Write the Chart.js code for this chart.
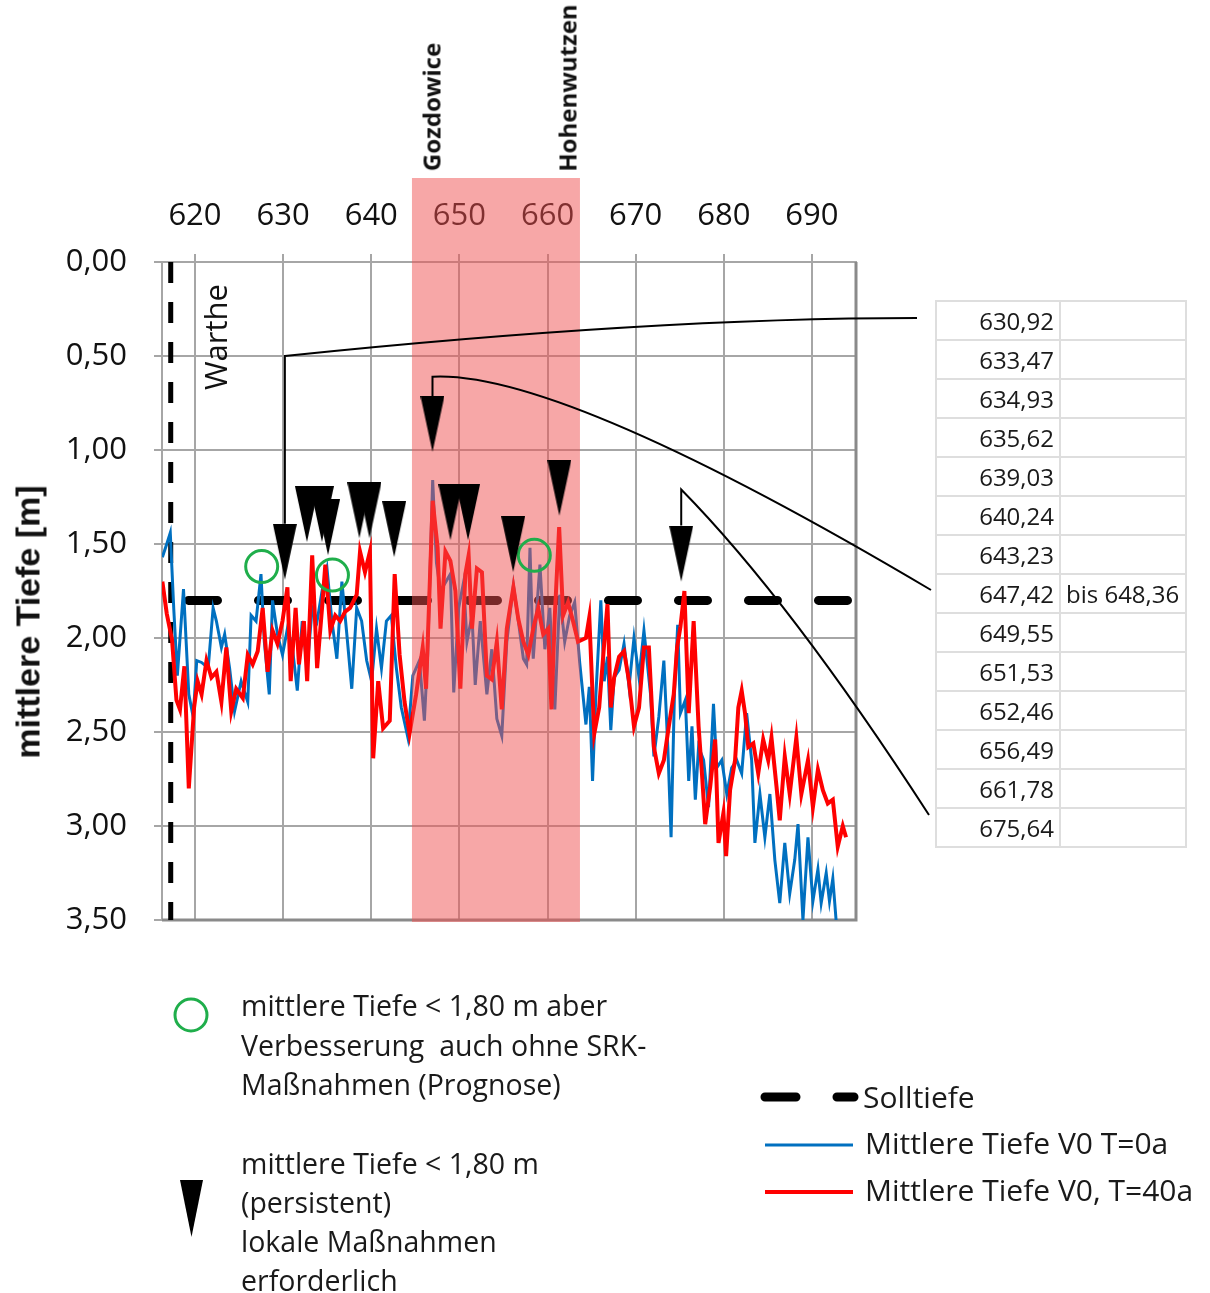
<!DOCTYPE html>
<html>
<head>
<meta charset="utf-8">
<script src="https://cdn.jsdelivr.net/npm/chart.js@4"></script>
<style>
  html, body { margin: 0; padding: 0; background: #fff; }
  #wrap { position: relative; width: 1210px; height: 1293px; overflow: hidden; }
  #chart { position: absolute; left: 0; top: 0; }
  .txt { position: absolute; color: #1a1a1a; font-family: 'Open Sans', sans-serif; white-space: pre; line-height: 40px; }
  .rot { position: absolute; transform: translate(-50%, -50%) rotate(-90deg); white-space: nowrap; line-height: 1; color: #111; }
  #tbl { position: absolute; left: 935px; top: 300px; border-collapse: collapse; font-family: 'Open Sans', sans-serif; font-size: 24px; color: #1a1a1a; }
  #tbl td { border: 2px solid #dedede; height: 37px; padding: 0 5px; line-height: 37px; }
  #tbl td.a { width: 112px; text-align: right; }
  #tbl td.b { width: 114px; text-align: left; }
</style>
</head>
<body>
<div id="wrap">
  <canvas id="chart" width="1210" height="1293"></canvas>

  <div class="rot" style="left:28px; top:622px; font:bold 34px 'Liberation Sans', Arial, sans-serif;">mittlere Tiefe [m]</div>
  <div class="rot" style="left:215px; top:337px; font:31px 'Open Sans', sans-serif;">Warthe</div>
  <div class="rot place" id="place0" style="font:bold 24px 'Open Sans', sans-serif;">Gozdowice</div>
  <div class="rot place" id="place1" style="font:bold 24px 'Open Sans', sans-serif;">Hohenwutzen</div>

  <table id="tbl"></table>

  <div class="txt" style="left:241px; top:985px; font-size:28.5px;">mittlere Tiefe &lt; 1,80 m aber</div>
  <div class="txt" style="left:241px; top:1025px; font-size:28.5px;">Verbesserung  auch ohne SRK-</div>
  <div class="txt" style="left:241px; top:1064px; font-size:28.5px;">Maßnahmen (Prognose)</div>
  <div class="txt" style="left:241px; top:1143px; font-size:28.5px;">mittlere Tiefe &lt; 1,80 m</div>
  <div class="txt" style="left:241px; top:1182px; font-size:28.5px;">(persistent)</div>
  <div class="txt" style="left:241px; top:1221px; font-size:28.5px;">lokale Maßnahmen</div>
  <div class="txt" style="left:241px; top:1260px; font-size:28.5px;">erforderlich</div>

  <div class="txt" style="left:863px; top:1077px; font-size:30px;">Solltiefe</div>
  <div class="txt" style="left:865px; top:1123px; font-size:30px;">Mittlere Tiefe V0 T=0a</div>
  <div class="txt" style="left:865px; top:1170px; font-size:30px;">Mittlere Tiefe V0, T=40a</div>
</div>

<script>
// axes
const xTicks = [620, 630, 640, 650, 660, 670, 680, 690];
const yTicks = [0, 0.5, 1, 1.5, 2, 2.5, 3, 3.5];
const sollTiefe = 1.8;
const wartheKm = 617.25;
const bandKm = [644.62, 663.68];
const places = ['Gozdowice', 'Hohenwutzen'];
const placeKm = [646.8, 662.2];

// Mittlere Tiefe V0 T=0a (blue)
const blueKm = [616.3, 616.8, 617.2, 617.6, 618.0, 618.7, 619.3, 619.8, 620.2, 620.75,
  621.5, 622.06, 622.43, 623.0, 623.37, 623.93, 624.49, 625.24, 625.99, 626.37,
  626.93, 627.49, 627.87, 628.43, 628.8, 629.36, 629.93, 630.49, 631.05, 631.61,
  632.17, 632.73, 633.3, 633.86, 634.42, 634.98, 635.54, 636.1, 636.67, 637.23,
  637.79, 638.35, 638.91, 639.48, 640.04, 640.6, 641.16, 641.72, 642.28, 642.85,
  643.41, 644.16, 644.72, 645.47, 646.03, 646.4, 646.97, 647.4, 647.86, 648.98,
  649.36, 649.92, 650.49, 650.86, 651.43, 651.8, 652.37, 653.12, 653.68, 654.25,
  654.81, 655.38, 656.13, 656.69, 657.26, 657.63, 658.01, 658.38, 659.14, 659.7,
  660.26, 660.83, 661.39, 661.95, 662.52, 663.08, 663.65, 664.36, 664.74, 665.11,
  665.49, 666.05, 666.43, 666.8, 667.18, 667.56, 668.12, 668.68, 669.25, 669.81,
  670.38, 670.94, 671.69, 672.07, 672.63, 673.2, 673.65, 674.02, 674.4, 674.77,
  675.08, 675.64, 676.02, 676.39, 676.77, 677.14, 677.71, 678.27, 678.83, 679.21,
  679.77, 680.34, 680.9, 681.47, 682.03, 682.59, 683.16, 683.53, 684.1, 684.66,
  685.23, 685.79, 686.35, 686.92, 687.48, 688.05, 688.42, 688.98, 689.55, 690.11,
  690.68, 691.05, 691.62, 691.99, 692.37, 692.74];
const blueDepth = [1.57, 1.50, 1.44, 1.85, 2.20, 1.74, 2.30, 2.42, 2.12, 2.13,
  2.16, 1.84, 1.91, 2.05, 1.98, 2.16, 2.39, 2.23, 2.34, 1.88,
  1.91, 1.66, 2.02, 2.30, 1.80, 1.98, 2.09, 1.95, 2.05, 2.28,
  1.91, 2.16, 1.84, 1.91, 1.75, 1.63, 1.91, 2.11, 1.70, 1.98,
  2.27, 1.84, 1.91, 2.12, 2.23, 1.95, 2.16, 1.91, 1.88, 2.16,
  2.37, 2.53, 2.20, 2.12, 2.44, 2.09, 1.16, 1.60, 1.75, 1.66,
  2.29, 1.84, 1.70, 2.02, 1.88, 2.25, 1.91, 2.30, 2.06, 2.43,
  2.52, 2.02, 1.72, 1.91, 2.11, 2.14, 1.52, 2.11, 1.61, 2.06,
  1.84, 2.38, 1.77, 2.02, 1.88, 1.81, 2.13, 2.46, 2.26, 2.76,
  2.30, 1.80, 2.23, 2.10, 2.49, 2.21, 2.17, 2.03, 2.26, 2.00,
  2.21, 1.96, 2.30, 2.63, 2.42, 2.12, 2.58, 3.06, 2.30, 1.93,
  2.40, 2.33, 2.76, 2.47, 2.86, 2.58, 2.65, 2.90, 2.35, 2.69,
  2.65, 2.83, 2.69, 2.65, 2.72, 2.40, 2.65, 3.09, 2.83, 3.06,
  2.83, 3.18, 3.41, 3.09, 3.36, 3.18, 2.99, 3.50, 3.06, 3.40,
  3.23, 3.41, 3.25, 3.40, 3.28, 3.50];

// Mittlere Tiefe V0, T=40a (red)
const redKm = [616.3, 616.8, 617.4, 617.9, 618.3, 618.8, 619.3, 619.9, 620.3, 620.75,
  621.31, 621.87, 622.43, 623.0, 623.56, 624.12, 624.68, 625.43, 625.99, 626.55,
  627.12, 627.68, 628.24, 628.8, 629.36, 629.93, 630.49, 630.86, 631.42, 631.8,
  632.36, 632.73, 633.3, 633.86, 634.42, 634.79, 635.36, 635.92, 636.48, 637.04,
  637.6, 638.35, 638.73, 639.29, 639.85, 640.22, 640.79, 641.35, 642.1, 642.66,
  643.22, 643.78, 644.34, 645.09, 645.84, 646.22, 646.97, 647.53, 647.86, 648.42,
  648.98, 649.55, 650.11, 650.68, 651.05, 651.43, 651.99, 652.56, 653.12, 653.68,
  654.25, 654.81, 655.38, 655.75, 656.13, 656.69, 657.26, 657.82, 658.38, 658.95,
  659.51, 660.08, 660.45, 660.83, 661.32, 661.77, 662.33, 662.89, 663.46, 664.36,
  664.74, 665.3, 665.86, 666.43, 666.8, 667.18, 667.56, 668.12, 668.68, 669.25,
  669.81, 670.38, 670.94, 671.5, 672.07, 672.63, 673.2, 673.76, 674.32, 674.7,
  675.08, 675.53, 676.02, 676.58, 677.14, 677.52, 677.89, 678.46, 679.02, 679.4,
  679.96, 680.26, 680.71, 681.28, 681.65, 682.03, 682.41, 682.78, 683.35, 683.91,
  684.47, 685.04, 685.41, 685.98, 686.35, 686.92, 687.48, 688.23, 688.8, 689.55,
  690.11, 690.68, 691.24, 691.8, 692.37, 692.93, 693.5, 693.87];
const redDepth = [1.70, 1.87, 2.01, 2.33, 2.38, 2.15, 2.80, 2.37, 2.23, 2.30,
  2.12, 2.21, 2.18, 2.34, 2.05, 2.39, 2.27, 2.32, 2.09, 2.14,
  2.07, 1.84, 2.18, 1.96, 2.03, 1.91, 1.73, 2.23, 1.84, 2.14,
  1.91, 2.23, 1.56, 2.16, 1.84, 1.61, 1.96, 1.88, 1.91, 1.86,
  1.84, 1.77, 1.54, 1.65, 1.54, 2.64, 2.23, 2.48, 2.44, 1.66,
  2.09, 2.34, 2.51, 2.30, 2.05, 2.27, 1.27, 1.52, 1.95, 1.54,
  1.59, 1.75, 2.27, 1.66, 1.56, 1.95, 1.63, 1.65, 2.20, 2.22,
  2.02, 2.38, 1.95, 1.84, 1.73, 1.90, 2.02, 2.09, 1.95, 1.84,
  1.98, 1.95, 2.38, 1.88, 1.41, 1.88, 1.81, 1.91, 2.02, 2.00,
  1.89, 2.51, 2.37, 2.03, 1.82, 2.37, 2.21, 2.10, 2.07, 2.23,
  2.47, 2.37, 2.05, 2.05, 2.58, 2.72, 2.65, 2.47, 2.30, 2.05,
  1.94, 1.75, 2.40, 1.91, 2.47, 2.72, 2.99, 2.79, 2.54, 3.09,
  2.93, 3.16, 2.81, 2.65, 2.37, 2.28, 2.40, 2.58, 2.56, 2.72,
  2.54, 2.65, 2.53, 2.79, 2.97, 2.63, 2.83, 2.53, 2.83, 2.65,
  2.90, 2.70, 2.81, 2.88, 2.86, 3.11, 3.00, 3.06];

// markers: triangles (tip position) and green circles
const triKm = [630.2, 632.7, 634.4, 635.1, 638.65, 639.8, 642.6, 646.95, 648.98, 650.98, 656.1, 661.34, 675.17];
const triDepth = [1.69, 1.49, 1.49, 1.56, 1.47, 1.47, 1.57, 1.01, 1.48, 1.48, 1.65, 1.35, 1.70];
const circleKm = [627.57, 635.6, 658.5];
const circleDepth = [1.62, 1.665, 1.56];

// table of locations
const tableKm = ['630,92', '633,47', '634,93', '635,62', '639,03', '640,24', '643,23',
  '647,42', '649,55', '651,53', '652,46', '656,49', '661,78', '675,64'];
const tableTo = ['', '', '', '', '', '', '', 'bis 648,36', '', '', '', '', '', ''];

// callouts: triangle index, corner depth, table end point, curve control point
const callouts = [
  { tri: 0, corner: 0.5, end: [917, 318], ctrl: [650, 318] },
  { tri: 7, corner: 0.61, end: [931, 590], ctrl: [560, 370] },
  { tri: 12, corner: 1.21, end: [929, 815], ctrl: [790, 600] },
];

const tbl = document.getElementById('tbl');
tableKm.forEach((v, i) => {
  const tr = document.createElement('tr');
  tr.innerHTML = '<td class="a">' + v + '</td><td class="b">' + tableTo[i] + '</td>';
  tbl.appendChild(tr);
});

const pts = (xs, ys) => xs.map((x, i) => ({ x: x, y: ys[i] }));

// tall canvas so the triangle tip sits at the point centre
const triImg = document.createElement('canvas');
triImg.width = 24;
triImg.height = 112;
const tctx = triImg.getContext('2d');
tctx.fillStyle = '#000';
tctx.beginPath();
tctx.moveTo(0, 0);
tctx.lineTo(24, 0);
tctx.lineTo(12, 56);
tctx.closePath();
tctx.fill();

const gridColor = '#a6a6a6';
const tickFont = { family: "'Open Sans', sans-serif", size: 31 };

const extras = {
  id: 'extras',
  beforeDatasetsDraw(chart) {
    const { ctx, chartArea: a } = chart;
    ctx.save();
    ctx.strokeStyle = '#8a8a8a';
    ctx.lineWidth = 3;
    ctx.beginPath();
    ctx.moveTo(a.right, a.top);
    ctx.lineTo(a.right, a.bottom);
    ctx.lineTo(a.left, a.bottom);
    ctx.stroke();
    ctx.restore();
  },
  beforeDatasetDraw(chart, args) {
    if (chart.data.datasets[args.index].label !== 'circles') return;
    const { ctx, scales: { x } } = chart;
    const x0 = x.getPixelForValue(bandKm[0]);
    const x1 = x.getPixelForValue(bandKm[1]);
    ctx.save();
    ctx.fillStyle = 'rgba(240,80,80,0.5)';
    ctx.fillRect(x0, 178, x1 - x0, 922 - 178);
    ctx.restore();
  },
  afterDraw(chart) {
    const { ctx, scales: { y } } = chart;
    const tri = chart.getDatasetMeta(5).data;
    ctx.save();
    ctx.strokeStyle = '#000';
    ctx.lineWidth = 2;
    callouts.forEach(c => {
      const p = tri[c.tri];
      const cy = y.getPixelForValue(c.corner);
      ctx.beginPath();
      ctx.moveTo(c.end[0], c.end[1]);
      ctx.quadraticCurveTo(c.ctrl[0], c.ctrl[1], p.x, cy);
      ctx.lineTo(p.x, p.y - 56);
      ctx.stroke();
    });

    // legend symbols
    ctx.strokeStyle = '#1fae4b';
    ctx.lineWidth = 3;
    ctx.beginPath();
    ctx.arc(191, 1015, 16, 0, Math.PI * 2);
    ctx.stroke();

    ctx.fillStyle = '#000';
    ctx.beginPath();
    ctx.moveTo(180, 1180);
    ctx.lineTo(203, 1180);
    ctx.lineTo(191.5, 1237);
    ctx.closePath();
    ctx.fill();

    ctx.strokeStyle = '#000';
    ctx.lineWidth = 9;
    ctx.lineCap = 'round';
    ctx.beginPath();
    ctx.moveTo(765, 1097); ctx.lineTo(796, 1097);
    ctx.moveTo(837, 1097); ctx.lineTo(854, 1097);
    ctx.stroke();

    ctx.lineCap = 'butt';
    ctx.lineWidth = 3;
    ctx.strokeStyle = '#0070c0';
    ctx.beginPath();
    ctx.moveTo(765, 1145); ctx.lineTo(853, 1145);
    ctx.stroke();
    ctx.lineWidth = 4;
    ctx.strokeStyle = '#ff0000';
    ctx.beginPath();
    ctx.moveTo(765, 1192); ctx.lineTo(853, 1192);
    ctx.stroke();
    ctx.restore();
  }
};

const chart = new Chart(document.getElementById('chart'), {
  type: 'line',
  data: {
    datasets: [
      { label: 'Mittlere Tiefe V0, T=40a', data: pts(redKm, redDepth), borderColor: '#ff0000',
        borderWidth: 4, pointRadius: 0, tension: 0, order: 3 },
      { label: 'Mittlere Tiefe V0 T=0a', data: pts(blueKm, blueDepth), borderColor: '#0070c0',
        borderWidth: 3, pointRadius: 0, tension: 0, order: 4 },
      { label: 'Solltiefe', data: [{ x: 616.26, y: sollTiefe }, { x: 695, y: sollTiefe }], borderColor: '#000',
        borderWidth: 9, borderDash: [29, 41], borderDashOffset: 43.5, borderCapStyle: 'round', pointRadius: 0, order: 5 },
      { label: 'Warthe', data: [{ x: wartheKm, y: 0 }, { x: wartheKm, y: 3.5 }], borderColor: '#000',
        borderWidth: 5, borderDash: [21, 19], pointRadius: 0, order: 6 },
      { label: 'circles', data: pts(circleKm, circleDepth), showLine: false, pointStyle: 'circle',
        pointRadius: 16, pointBorderWidth: 3, pointBorderColor: '#1fae4b', pointBackgroundColor: 'rgba(0,0,0,0)', order: 1 },
      { label: 'triangles', data: pts(triKm, triDepth), showLine: false, pointStyle: triImg,
        pointRadius: 5, order: 0 }
    ]
  },
  options: {
    responsive: false,
    animation: false,
    devicePixelRatio: 1,
    events: [],
    layout: { padding: { left: 0, top: 0, right: 354, bottom: 373 } },
    plugins: { legend: { display: false }, tooltip: { enabled: false } },
    scales: {
      x: {
        type: 'linear', position: 'top', min: 616.26, max: 695,
        afterBuildTicks: s => { s.ticks = xTicks.map(v => ({ value: v })); },
        afterFit: s => { s.height = 262; },
        grid: { color: gridColor, lineWidth: 2, tickLength: 8 },
        border: { color: gridColor, width: 2 },
        ticks: { font: tickFont, color: '#111', padding: 19, maxRotation: 0, callback: v => String(v) }
      },
      y: {
        type: 'linear', reverse: true, min: 0, max: 3.5,
        afterBuildTicks: s => { s.ticks = yTicks.map(v => ({ value: v })); },
        afterFit: s => { s.width = 162; },
        grid: { color: gridColor, lineWidth: 2, tickLength: 8 },
        border: { color: gridColor, width: 2 },
        ticks: { font: tickFont, color: '#111', padding: 27, callback: v => v.toFixed(2).replace('.', ',') }
      }
    }
  },
  plugins: [extras]
});

// place names above the highlighted stretch
places.forEach((name, i) => {
  const el = document.getElementById('place' + i);
  el.style.left = chart.scales.x.getPixelForValue(placeKm[i]) + 'px';
  el.style.top = (171 - el.offsetWidth / 2) + 'px';
});
</script>
</body>
</html>
